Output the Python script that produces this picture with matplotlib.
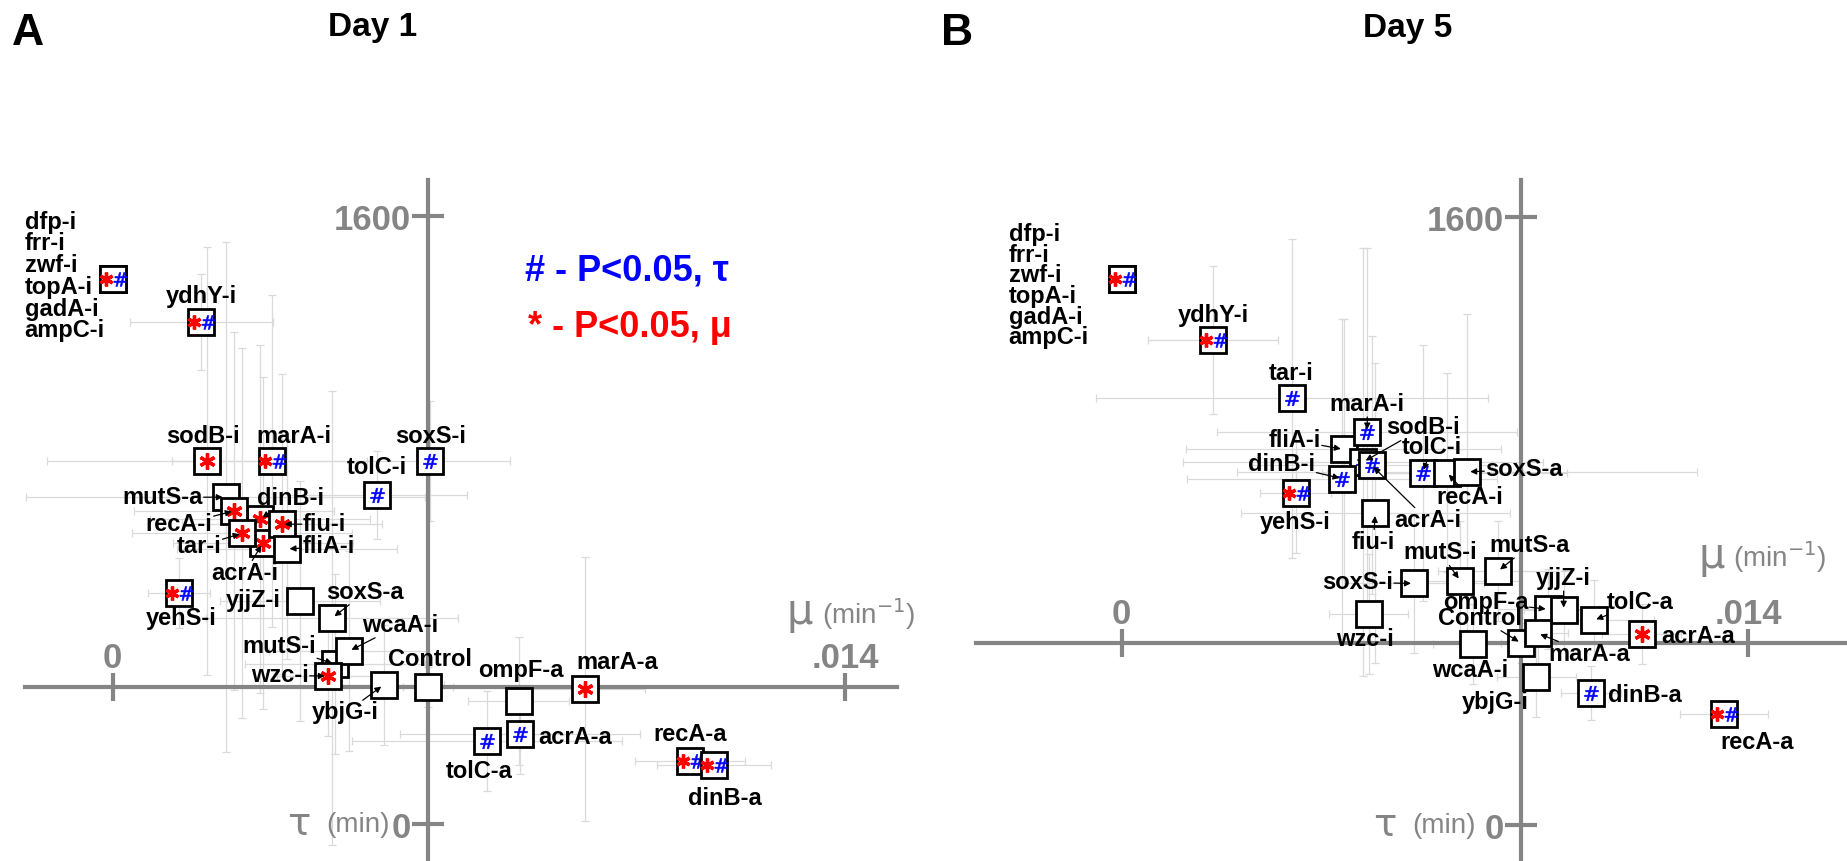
import matplotlib.pyplot as plt
from matplotlib import transforms

W, H = 1847, 861
plt.rcParams['font.family'] = ['Liberation Sans', 'DejaVu Sans']
plt.rcParams['mathtext.fontset'] = 'dejavusans'

GRAY = '#858585'
ERRC = '#dadada'
MU_TICK, TAU_TICK = 0.014, 1600

# ---- Day 1 ----
d1_names = ['dfp-i', 'frr-i', 'zwf-i', 'topA-i', 'gadA-i', 'ampC-i',
            'ydhY-i', 'sodB-i', 'marA-i', 'soxS-i', 'tolC-i', 'mutS-a', 'dinB-i',
            'recA-i', 'acrA-i', 'tar-i', 'fiu-i', 'fliA-i', 'yehS-i', 'yjjZ-i',
            'soxS-a', 'mutS-i', 'wcaA-i', 'wzc-i', 'ybjG-i', 'Control', 'ompF-a',
            'marA-a', 'acrA-a', 'tolC-a', 'recA-a', 'dinB-a']
d1_mu = [0.0, 0.0, 0.0, 0.0, 0.0, 0.0,
         0.0017, 0.0018, 0.00305, 0.00607, 0.00505, 0.00216, 0.00282,
         0.00233, 0.00287, 0.00248, 0.00324, 0.00333, 0.00127, 0.00359,
         0.0042, 0.00425, 0.00452, 0.00411, 0.00518, 0.00603, 0.00776,
         0.00903, 0.00779, 0.00715, 0.01104, 0.0115]
d1_tau = [1433, 1433, 1433, 1433, 1433, 1433,
          1322, 955, 955, 955, 866, 860, 802,
          824, 739, 765, 789, 724, 608, 587,
          542, 421, 455, 389, 366, 361, 324,
          355, 236, 218, 165, 156]
d1_mu_err = [0, 0, 0, 0, 0, 0,
             0.00136, 0.00306, 0.00191, 0.00153, 0.00172, 0.00382, 0.0021,
             0.00191, 0.00172, 0.0021, 0.00191, 0.0021, 0.00059, 0.00153,
             0.00241, 0.00172, 0.00153, 0.00096, 0.00115, 0.00048, 0.00096,
             0.00115, 0.00229, 0.00258, 0.00105, 0.00109]
d1_tau_err = [0, 0, 0, 0, 0, 0,
              126, 563, 437, 158, 116, 671, 458,
              471, 437, 487, 395, 290, 92, 316,
              597, 237, 263, 158, 158, 53, 168,
              347, 105, 132, 21, 21]
d1_sig = ['*#', '*#', '*#', '*#', '*#', '*#',
          '*#', '*', '*#', '#', '#', '', '*',
          '*', '*', '*', '*', '', '*#', '',
          '', '', '', '*', '', '', '',
          '*', '#', '#', '*#', '*#']

# ---- Day 5 ----
d5_names = ['dfp-i', 'frr-i', 'zwf-i', 'topA-i', 'gadA-i', 'ampC-i',
            'ydhY-i', 'tar-i', 'fliA-i', 'sodB-i', 'marA-i', 'acrA-i', 'dinB-i',
            'tolC-i', 'recA-i', 'soxS-a', 'yehS-i', 'fiu-i', 'soxS-i', 'mutS-i',
            'mutS-a', 'wzc-i', 'ompF-a', 'yjjZ-i', 'tolC-a', 'Control', 'marA-a',
            'acrA-a', 'wcaA-i', 'ybjG-i', 'dinB-a', 'recA-a']
d5_mu = [0.0, 0.0, 0.0, 0.0, 0.0, 0.0,
         0.00205, 0.0038, 0.00496, 0.0054, 0.00549, 0.00559, 0.00493,
         0.00673, 0.00727, 0.00773, 0.00389, 0.00567, 0.00653, 0.00757,
         0.00841, 0.00552, 0.00954, 0.00988, 0.01055, 0.00893, 0.0093,
         0.01162, 0.00786, 0.00927, 0.0105, 0.01347]
d5_tau = [1437, 1437, 1437, 1437, 1437, 1437,
          1276, 1123, 989, 956, 1034, 947, 912,
          928, 928, 930, 873, 821, 636, 643,
          668, 556, 568, 565, 539, 479, 505,
          504, 477, 390, 347, 292]
d5_mu_err = [0, 0, 0, 0, 0, 0,
             0.00145, 0.00438, 0.00351, 0.00402, 0.00335, 0.00268, 0.00346,
             0.00224, 0.00268, 0.00514, 0.0008, 0.003, 0.00156, 0.00134,
             0.00134, 0.00089, 0.00112, 0.00089, 0.00134, 0.00045, 0.00067,
             0.00089, 0.00089, 0.00089, 0.00067, 0.00098]
d5_tau_err = [0, 0, 0, 0, 0, 0,
              195, 421, 342, 563, 484, 340, 421,
              337, 263, 416, 158, 395, 184, 158,
              132, 158, 105, 105, 105, 53, 79,
              79, 105, 105, 71, 26]
d5_sig = ['*#', '*#', '*#', '*#', '*#', '*#',
          '*#', '#', '', '#', '#', '#', '#',
          '#', '', '', '*#', '', '', '',
          '', '', '', '', '', '', '',
          '*', '', '', '#', '*#']

# label placement: (dx px, dy px, ha, arrow); None = part of the stacked group label
d1_layout = [None, None, None, None, None, None,
             (0, 25, 'center', False), (-4, 25, 'center', False), (22, 25, 'center', False),
             (0, 25, 'center', False), (0, 27, 'center', False), (-23, 0, 'right', True),
             (30, 21, 'center', True), (-22, -14, 'right', True), (-18, -30, 'center', True),
             (-21, -13, 'right', True), (21, 0, 'left', True), (16, 2, 'left', True),
             (2, -26, 'center', False), (-20, 0, 'right', False), (33, 26, 'center', True),
             (-19, 18, 'right', True), (51, 26, 'center', True), (-19, 1, 'right', True),
             (-38, -28, 'center', True), (2, 27, 'center', False), (2, 30, 'center', False),
             (32, 27, 'center', False), (18, -3, 'left', False), (-7, -30, 'center', False),
             (0, 27, 'center', False), (11, -34, 'center', False)]
d5_layout = [None, None, None, None, None, None,
             (0, 25, 'center', False), (0, 25, 'center', False), (-23, 9, 'right', True),
             (60, 34, 'center', True), (0, 28, 'center', True), (56, -55, 'center', True),
             (-27, 14, 'right', True), (9, 25, 'center', True), (23, -25, 'center', True),
             (18, 2, 'left', True), (0, -29, 'center', False), (-2, -29, 'center', True),
             (-21, 1, 'right', True), (-20, 28, 'center', True), (32, 26, 'center', True),
             (-4, -26, 'center', False), (-20, 7, 'right', True), (0, 32, 'center', True),
             (47, 18, 'center', True), (-41, 25, 'center', True), (52, -21, 'center', True),
             (20, -3, 'left', False), (-3, -27, 'center', False), (-41, -26, 'center', False),
             (17, -2, 'left', False), (33, -28, 'center', False)]

# pixel geometry of each panel (mu=0, mu=.014, tau=0, tau=1600) and axis line extents
geo_a = dict(x0=112.5, x1=845.0, y0=824.0, y1=216.0, hspan=(25, 897), vspan=(180, 861),
             tau_dx=(-117, -38), mu_txt=(-59, 63, -23, 63), group=(-88, 3, 0.93))
geo_b = dict(x0=1121.6, x1=1748.0, y0=825.0, y1=217.3, hspan=(976, 1847), vspan=(180, 861),
             tau_dx=(-125, -45), mu_txt=(-50, 75, -15, 76), group=(-113, -7, 0.87))

fig = plt.figure(figsize=(W / 100, H / 100), dpi=100)


def make_axes(g):
    ax = fig.add_axes([g['x0'] / W, 1 - g['y0'] / H, (g['x1'] - g['x0']) / W, (g['y0'] - g['y1']) / H])
    ax.set_xlim(0, MU_TICK)
    ax.set_ylim(0, TAU_TICK)
    ax.axis('off')
    return ax


def symbol(ax, x, y, kind, dx, z, size):
    tr = transforms.offset_copy(ax.transData, fig=fig, x=dx, y=0, units='dots')
    if kind == '*':
        ax.plot(x, y, ls='none', marker=(6, 2, 0), ms=size, mew=2.4, color='red',
                transform=tr, zorder=z, clip_on=False)
    else:
        ax.plot(x, y, ls='none', marker=r'$\#$', ms=size, mfc='blue', mec='blue', mew=0.4,
                transform=tr, zorder=z, clip_on=False)


def draw_panel(ax, g, names, mu, tau, mu_err, tau_err, sig, layout):
    c = names.index('Control')
    cmu, ctau = mu[c], tau[c]
    sx = g['x1'] - g['x0']
    sy = g['y0'] - g['y1']

    eb = ax.errorbar(mu, tau, xerr=mu_err, yerr=tau_err, fmt='none', ecolor=ERRC,
                     elinewidth=0.9, capsize=3, capthick=0.9, zorder=1)
    for art in list(eb.lines[1]) + list(eb.lines[2]):
        art.set_clip_on(False)

    # axes crossing at the control strain
    ax.axhline(ctau, xmin=(g['hspan'][0] - g['x0']) / sx, xmax=(g['hspan'][1] - g['x0']) / sx,
               color=GRAY, lw=3, zorder=2, clip_on=False)
    ax.axvline(cmu, ymin=(g['y0'] - g['vspan'][1]) / sy, ymax=(g['y0'] - g['vspan'][0]) / sy,
               color=GRAY, lw=3, zorder=2, clip_on=False)
    ax.plot([0, MU_TICK], [ctau, ctau], ls='none', marker='|', ms=20, mew=3, color=GRAY,
            zorder=2, clip_on=False)
    ax.plot([cmu, cmu], [0, TAU_TICK], ls='none', marker='_', ms=23, mew=3, color=GRAY,
            zorder=2, clip_on=False)

    tick_kw = dict(textcoords='offset pixels', fontsize=25, weight='bold', color=GRAY,
                   va='baseline', annotation_clip=False)
    ax.annotate('0', (0, ctau), xytext=(0, 19), ha='center', **tick_kw)
    ax.annotate('.014', (MU_TICK, ctau), xytext=(0, 19), ha='center', **tick_kw)
    ax.annotate('1600', (cmu, TAU_TICK), xytext=(-17, -14), ha='right', **tick_kw)
    ax.annotate('0', (cmu, 0), xytext=(-17, -14), ha='right', **tick_kw)

    lab_kw = dict(textcoords='offset pixels', color=GRAY, va='baseline', annotation_clip=False)
    ax.annotate('τ', (cmu, 0), xytext=(g['tau_dx'][0], -11), ha='right', fontsize=28,
                family='DejaVu Sans', **lab_kw)
    ax.annotate('(min)', (cmu, 0), xytext=(g['tau_dx'][1], -8), ha='right', fontsize=20, **lab_kw)
    m = g['mu_txt']
    ax.annotate('μ', (MU_TICK, ctau), xytext=(m[0], m[1]), ha='left', fontsize=30,
                family='DejaVu Sans', **lab_kw)
    ax.annotate('(min$^{-1}$)', (MU_TICK, ctau), xytext=(m[2], m[3]), ha='left', fontsize=20, **lab_kw)

    grouped = []
    for i, name in enumerate(names):
        z = 3 + i * 0.01
        ax.plot(mu[i], tau[i], ls='none', marker='s', ms=18.5, mfc='white', mec='black',
                mew=2, zorder=z, clip_on=False)
        if sig[i] == '*#':
            symbol(ax, mu[i], tau[i], '*', -7, z + 0.005, 10)
            symbol(ax, mu[i], tau[i], '#', 7, z + 0.005, 10)
        elif sig[i]:
            symbol(ax, mu[i], tau[i], sig[i], 0, z + 0.005, 11.5 if sig[i] == '*' else 10.5)

        if layout[i] is None:
            grouped.append(i)
            continue
        dx, dy, ha, arrow = layout[i]
        kw = dict(xytext=(dx, dy), textcoords='offset pixels', ha=ha, va='center',
                  fontsize=17, weight='bold', color='black', zorder=10, annotation_clip=False)
        if arrow:
            kw['arrowprops'] = dict(arrowstyle='-|>', color='black', lw=0.9, shrinkA=0,
                                    shrinkB=2, mutation_scale=9)
            kw['bbox'] = dict(boxstyle='square,pad=0.05', fc='none', ec='none')
        ax.annotate(name, (mu[i], tau[i]), **kw)

    # strains sharing the same point are listed in one stacked label
    gdx, gdy, gls = g['group']
    j = grouped[0]
    ax.annotate('\n'.join(names[k] for k in grouped), (mu[j], tau[j]), xytext=(gdx, gdy),
                textcoords='offset pixels', ha='left', va='center', multialignment='left',
                linespacing=gls, fontsize=17, weight='bold', zorder=10, annotation_clip=False)


ax_a = make_axes(geo_a)
draw_panel(ax_a, geo_a, d1_names, d1_mu, d1_tau, d1_mu_err, d1_tau_err, d1_sig, d1_layout)
ax_b = make_axes(geo_b)
draw_panel(ax_b, geo_b, d5_names, d5_mu, d5_tau, d5_mu_err, d5_tau_err, d5_sig, d5_layout)

# panel letters, titles, significance key
fig.text(12 / W, 1 - 45 / H, 'A', fontsize=32, weight='bold', va='baseline')
fig.text(941 / W, 1 - 45 / H, 'B', fontsize=32, weight='bold', va='baseline')
fig.text(373 / W, 1 - 36 / H, 'Day 1', fontsize=24, weight='bold', ha='center', va='baseline')
fig.text(1408 / W, 1 - 37 / H, 'Day 5', fontsize=24, weight='bold', ha='center', va='baseline')
fig.text(525 / W, 1 - 280 / H, '# - P<0.05, τ', color='blue', fontsize=26, weight='bold', va='baseline')
fig.text(528 / W, 1 - 337 / H, '* - P<0.05, μ', color='red', fontsize=26, weight='bold', va='baseline')

fig.savefig('out.png', dpi=100)
